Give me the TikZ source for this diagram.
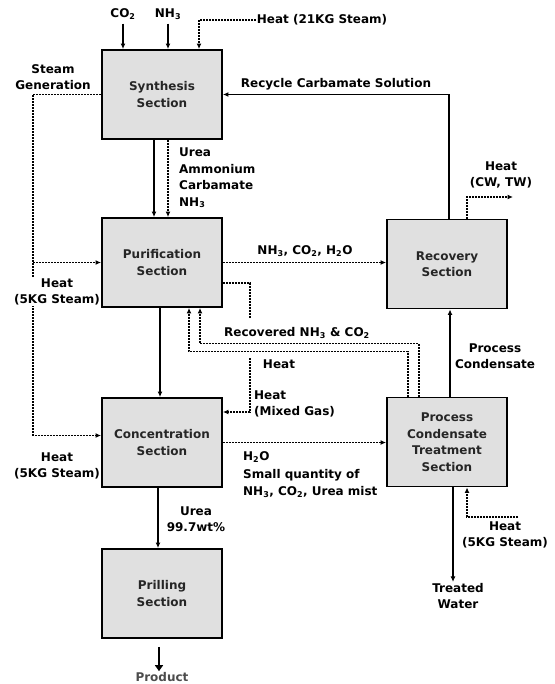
\documentclass[tikz,border=0pt]{standalone}
\usepackage{fontspec}
\setmainfont{DejaVu Sans}
\usetikzlibrary{arrows.meta}
\tikzset{
  secbox/.style={draw,line width=1.9pt,fill=black!12,minimum width=120pt,minimum height=89pt,align=center,text=black!85},
  txt/.style={align=center,inner sep=1pt},
  solidflow/.style={line width=1.8pt,-{Latex[length=5.5pt,width=5pt]}},
  heatflow/.style={line width=1.8pt,dash pattern=on 2pt off 1pt,-{Latex[length=5.5pt,width=5pt]}},
}
\begin{document}
\begin{tikzpicture}[x=1pt,y=-1pt,font=\fontsize{12}{16.5}\selectfont\bfseries]
        \useasboundingbox (0,0) rectangle (554,684);
        %% Sections
        \node[secbox] (synth) at (162,94.5) {Synthesis\\Section};
        \node[secbox] (pur) at (162,262.5) {Purification\\Section};
        \node[secbox] (conc) at (162,442.5) {Concentration\\Section};
        \node[secbox] (prill) at (162,593.5) {Prilling\\Section};
        \node[secbox] (rec) at (447,264) {Recovery\\Section};
        \node[secbox] (pct) at (447,442) {Process\\Condensate\\Treatment\\Section};
        %% Feeds to synthesis
        \node[txt] (co2) at (123,14) {CO\textsubscript{2}};
        \node[txt] (nh3) at (168,14) {NH\textsubscript{3}};
        \draw[solidflow,shorten <=3pt] (co2.south) -- (co2.south |- synth.north);
        \draw[solidflow,shorten <=3pt] (nh3.south) -- (nh3.south |- synth.north);
        \node[txt] (hsteam) at (322,20) {Heat (21KG Steam)};
        \draw[heatflow] (hsteam.west) -| ([xshift=37pt]synth.north);
        %% Steam generation
        \node[txt] (steamgen) at (53,77) {Steam\\Generation};
        \coordinate (sg) at (33,94.5);
        \draw[heatflow] (synth.west) -- (sg) |- ([yshift=7pt]conc.west);
        \draw[heatflow] (sg |- pur.west) -- (pur.west);
        \node[txt,fill=white] (heatpur) at (57,292) {Heat\\(5KG Steam)};
        \node[txt] (heatconc) at (57,466) {Heat\\(5KG Steam)};
        %% Synthesis to purification
        \draw[solidflow] ([xshift=-8pt]synth.south) -- ([xshift=-8pt]pur.north);
        \draw[heatflow] ([xshift=6pt]synth.south) -- ([xshift=6pt]pur.north);
        \node[txt,anchor=west,align=left] (urea) at (178,178) {Urea\\Ammonium\\Carbamate\\NH\textsubscript{3}};
        %% Recycle
        \draw[solidflow] ([xshift=2pt]rec.north) |- (synth.east);
        \node[txt] (recycle) at (336,84) {Recycle Carbamate Solution};
        \coordinate (cwend) at (513,197);
        \draw[heatflow] ([xshift=20pt]rec.north) |- (cwend);
        \node[txt] (hcw) at (501,175) {Heat\\(CW, TW)};
        %% Purification to recovery
        \draw[heatflow] (pur.east) -- (rec.west |- pur.east);
        \node[txt] (nhco) at (305,251) {NH\textsubscript{3}, CO\textsubscript{2}, H\textsubscript{2}O};
        %% Heat (mixed gas)
        \coordinate (mga) at (250,318);
        \coordinate (mgb) at (250,358);
        \draw[heatflow,-] ([yshift=-20.5pt]pur.east) -| (mga);
        \draw[heatflow] (mgb) |- ([yshift=30.5pt]conc.east);
        \node[txt] (hpur) at (279,364) {Heat};
        \node[txt,anchor=west,align=left] (hmix) at (253,404) {Heat\\(Mixed Gas)};
        %% Recovered NH3 & CO2
        \draw[heatflow] ([xshift=-28pt]pct.north) -- ++(0,-53) -| ([xshift=38pt]pur.south);
        \draw[heatflow] ([xshift=-39pt]pct.north) -- ++(0,-45) -| ([xshift=27pt]pur.south);
        \node[txt] (recov) at (297,333) {Recovered NH\textsubscript{3} \& CO\textsubscript{2}};
        %% Process condensate
        \draw[solidflow] ([xshift=3pt]pct.north) -- ([xshift=3pt]rec.south);
        \node[txt] (pcond) at (495,356) {Process\\Condensate};
        %% Purification to concentration
        \draw[solidflow] ([xshift=-2pt]pur.south) -- ([xshift=-2pt]conc.north);
        %% Concentration to condensate treatment
        \draw[heatflow] (conc.east) -- (pct.west |- conc.east);
        \node[txt,anchor=west,align=left,font=\fontsize{12}{17.5}\selectfont\bfseries] (h2o) at (242,475) {H\textsubscript{2}O\\Small quantity of\\NH\textsubscript{3}, CO\textsubscript{2}, Urea mist};
        %% Concentration to prilling
        \draw[solidflow] ([xshift=-4pt]conc.south) -- ([xshift=-4pt]prill.north);
        \node[txt] (urea2) at (196,519) {Urea\\99.7wt\%};
        %% Product
        \node[txt,text=black!70] (prod) at (162,677) {Product};
        \draw[line width=2.8pt,-{Triangle[length=6pt,width=8pt]}] ([xshift=-3pt,yshift=-8pt]prill.south) -- ([xshift=-3pt]prill.south |- prod.north);
        %% Treated water
        \node[txt] (twater) at (458,596) {Treated\\Water};
        \draw[solidflow] ([xshift=6pt]pct.south) -- ([xshift=6pt]pct.south |- twater.north);
        %% Heat into condensate treatment
        \node[txt] (hpct) at (505,535) {Heat\\(5KG Steam)};
        \coordinate (hpe) at (518,517);
        \draw[heatflow] (hpe) -| ([xshift=20pt]pct.south);
\end{tikzpicture}
\end{document}
